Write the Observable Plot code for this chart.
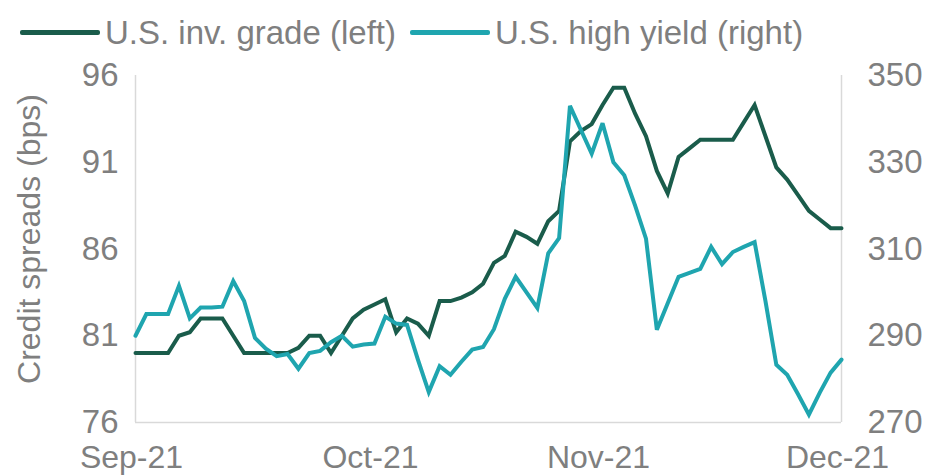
<!DOCTYPE html>
<html>
<head>
<meta charset="utf-8">
<script src="https://cdn.jsdelivr.net/npm/d3@7"></script>
<script src="https://cdn.jsdelivr.net/npm/@observablehq/plot@0.6"></script>
<style>
  html, body { margin: 0; padding: 0; background: #ffffff; }
  body { width: 927px; height: 476px; overflow: hidden; font-family: "Liberation Sans", Arial, sans-serif; }
  #legend { position: relative; height: 55px; }
  .item { position: absolute; top: 0; height: 55px; display: flex; align-items: center; }
  .swatch { width: 80px; height: 5px; border-radius: 2px; margin-right: 5px; margin-top: 10px; }
  .label { font-size: 33px; color: #7f7f7f; line-height: 1; margin-top: 10px; }
  #chart svg { display: block; }
</style>
</head>
<body>
<div id="legend"></div>
<div id="chart"></div>
<script>
// ---- data ----
const seriesNames = ["U.S. inv. grade (left)", "U.S. high yield (right)"];
const seriesColors = ["#1a5c4b", "#1fa5af"];
const startDate = "2021-09-01";
const endDate = "2021-12-01";
const monthLabels = ["Sep-21", "Oct-21", "Nov-21", "Dec-21"];
const leftTicks = [76, 81, 86, 91, 96];
const rightTicks = [270, 290, 310, 330, 350];
const yTitle = "Credit spreads (bps)";

// U.S. investment grade credit spread (bps), one value per business day
const igSpread = [
  80, 80, 80, 80, 81, 81.2, 82, 82, 82, 81,
  80, 80, 80, 80, 80, 80.3, 81, 81, 80, 81,
  82, 82.5, 82.8, 83.1, 81.2, 82, 81.7, 81, 83, 83,
  83.2, 83.5, 84, 85.2, 85.6, 87, 86.7, 86.3, 87.6, 88.2,
  92.2, 92.8, 93.2, 94.3, 95.3, 95.3, 93.8, 92.5, 90.5, 89.2,
  91.3, 91.8, 92.3, 92.3, 92.3, 92.3, 93.3, 94.3, 92.5, 90.7,
  90, 89.1, 88.2, 87.7, 87.2, 87.2
];
// U.S. high yield credit spread (bps), one value per business day
const hySpread = [
  290, 295, 295, 295, 301.5, 294, 296.5, 296.5, 296.7, 302.6,
  298, 289.5, 287, 285.3, 285.8, 282.4, 286, 286.5, 288.5, 290,
  287.5, 288, 288.2, 294.4, 292.8, 292.5, 284.5, 277, 283, 281,
  284, 286.8, 287.4, 291.5, 298.5, 303.6, 300, 296.4, 309, 312.5,
  343, 337.5, 332, 339, 330, 327, 320, 312.4, 291.4, 297.5,
  303.6, 304.5, 305.4, 310.5, 306.5, 309.3, 310.5, 311.6, 298, 283.3,
  281, 276.5, 271.8, 276.9, 281.5, 284.5
];

// business days on the category axis
const dates = d3.utcDays(new Date(startDate), d3.utcDay.offset(new Date(endDate), 1))
  .filter(d => d.getUTCDay() !== 0 && d.getUTCDay() !== 6);
const monthStartIdx = dates.map((d, i) => i).filter(i => i === 0 || dates[i].getUTCMonth() !== dates[i - 1].getUTCMonth());

// right axis (high yield) is mapped onto the left axis range
const leftDomain = [leftTicks[0], leftTicks[leftTicks.length - 1]];
const rightDomain = [rightTicks[0], rightTicks[rightTicks.length - 1]];
const toLeft = v => leftDomain[0] + (v - rightDomain[0]) * (leftDomain[1] - leftDomain[0]) / (rightDomain[1] - rightDomain[0]);
const toRight = v => rightDomain[0] + (v - leftDomain[0]) * (rightDomain[1] - rightDomain[0]) / (leftDomain[1] - leftDomain[0]);

const rows = dates.map((d, i) => ({i, date: d, ig: igSpread[i], hy: hySpread[i]}));

// legend
const legend = document.getElementById("legend");
const legendX = [20, 410];
seriesNames.forEach((name, k) => {
  const item = document.createElement("div");
  item.className = "item";
  item.style.left = legendX[k] + "px";
  item.innerHTML = `<div class="swatch" style="background:${seriesColors[k]}"></div><div class="label">${name}</div>`;
  legend.appendChild(item);
});

const gray = "#7f7f7f";
const chart = Plot.plot({
  width: 927,
  height: 421,
  marginLeft: 135,
  marginRight: 86,
  marginTop: 20,
  marginBottom: 54,
  style: {fontFamily: "'Liberation Sans', Arial, sans-serif", fontSize: "33px", color: gray, background: "#ffffff", overflow: "visible"},
  x: {domain: [0, dates.length - 1], axis: null},
  y: {domain: leftDomain, axis: null},
  marks: [
    Plot.ruleX([0, dates.length - 1], {stroke: "#d9d9d9", strokeWidth: 1.5}),
    Plot.ruleY([leftDomain[0]], {stroke: "#d9d9d9", strokeWidth: 1.5}),
    Plot.axisY(leftTicks, {anchor: "left", tickSize: 0, tickPadding: 17, label: null, fontSize: 33, fill: gray}),
    Plot.axisY(rightTicks.map(toLeft), {anchor: "right", tickSize: 0, tickPadding: 26, label: null,
      tickFormat: d => String(Math.round(toRight(d))), fontSize: 33, fill: gray}),
    Plot.axisX(monthStartIdx, {anchor: "bottom", tickSize: 0, tickPadding: 23, label: null, dx: -4,
      tickFormat: d => monthLabels[monthStartIdx.indexOf(d)], fontSize: 32, fill: gray}),
    Plot.text([yTitle], {frameAnchor: "left", textAnchor: "middle", rotate: -90, dx: -106, dy: -10,
      fontSize: 32, fill: gray, text: d => d}),
    Plot.line(rows, {x: "i", y: "ig", stroke: seriesColors[0], strokeWidth: 4, strokeLinejoin: "miter", strokeMiterlimit: 3}),
    Plot.line(rows, {x: "i", y: d => toLeft(d.hy), stroke: seriesColors[1], strokeWidth: 4, strokeLinejoin: "miter", strokeMiterlimit: 3})
  ]
});
document.getElementById("chart").appendChild(chart);
</script>
</body>
</html>
